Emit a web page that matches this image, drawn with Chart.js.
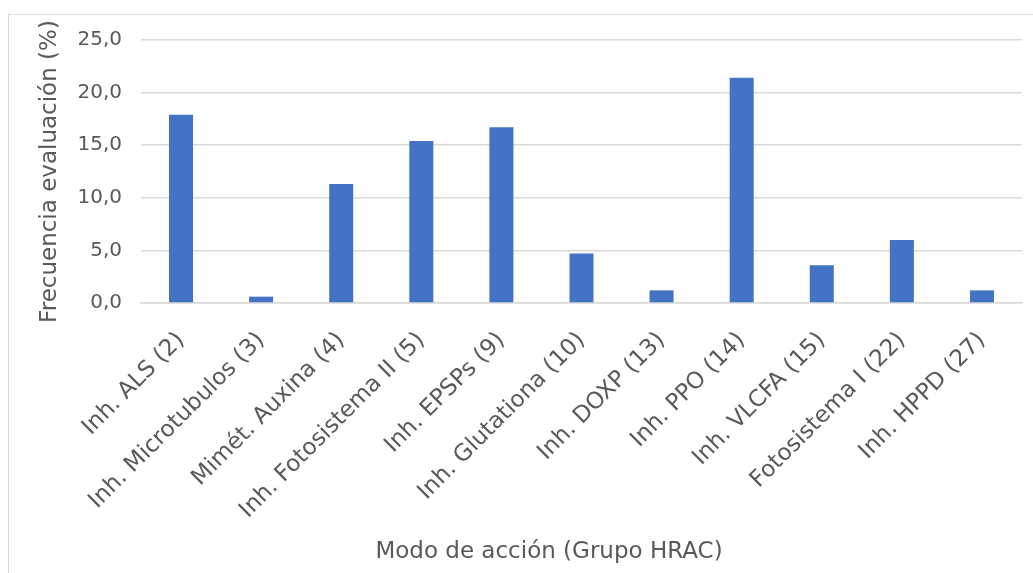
<!DOCTYPE html>
<html>
<head>
<meta charset="utf-8">
<script src="https://cdn.jsdelivr.net/npm/chart.js@4.4.1/dist/chart.umd.min.js"></script>
<style>
  html, body { margin: 0; padding: 0; background: #fff; overflow: hidden; }
  #wrap { position: relative; width: 1033px; height: 573px; }
  #frame { position: absolute; left: 8px; top: 14px; width: 1100px; height: 700px; border: 1px solid #d9d9d9; box-sizing: border-box; }
  canvas { position: absolute; left: 0; top: 0; }
</style>
</head>
<body>
<div id="wrap">
  <div id="frame"></div>
  <canvas id="grafico" width="1033" height="573"></canvas>
</div>
<script>
var categorias = ['Inh. ALS (2)', 'Inh. Microtubulos (3)', 'Mimét. Auxina (4)', 'Inh. Fotosistema II (5)', 'Inh. EPSPs (9)', 'Inh. Glutationa (10)', 'Inh. DOXP (13)', 'Inh. PPO (14)', 'Inh. VLCFA (15)', 'Fotosistema I (22)', 'Inh. HPPD (27)'];
var frecuencia = [17.9, 0.6, 11.3, 15.4, 16.7, 4.7, 1.2, 21.4, 3.6, 6.0, 1.2];
var ticksY = [0, 5, 10, 15, 20, 25];
var tituloX = 'Modo de acción (Grupo HRAC)';

// titulo del eje X, centrado como en el original
var tituloEjeX = {
  id: 'tituloEjeX',
  afterDraw: function (chart) {
    var c = chart.ctx;
    c.save();
    c.fillStyle = '#595959';
    c.font = '23px "DejaVu Sans"';
    c.textAlign = 'center';
    c.textBaseline = 'middle';
    c.fillText(tituloX, 549, 552);
    c.restore();
  }
};

var ctx = document.getElementById('grafico').getContext('2d');
var grafico = new Chart(ctx, {
  type: 'bar',
  data: {
    labels: categorias,
    datasets: [{
      label: 'Frecuencia evaluación (%)',
      data: frecuencia,
      backgroundColor: '#4472C4',
      borderWidth: 0,
      categoryPercentage: 1.0,
      barPercentage: 0.3
    }]
  },
  options: {
    responsive: false,
    animation: false,
    layout: { padding: { top: 40, right: 11, left: 10, bottom: 8 } },
    scales: {
      y: {
        min: 0,
        max: 25,
        afterFit: function (scale) { scale.width = 131; },
        afterBuildTicks: function (scale) {
          scale.ticks = ticksY.map(function (v) { return { value: v }; });
        },
        ticks: {
          color: '#595959',
          padding: 19,
          font: { family: 'DejaVu Sans', size: 20 },
          callback: function (v) { return v.toFixed(1).replace('.', ','); }
        },
        grid: { color: '#d9d9d9', lineWidth: 1.5, drawTicks: false },
        border: { display: false },
        title: {
          display: true,
          text: 'Frecuencia evaluación (%)',
          color: '#595959',
          font: { family: 'DejaVu Sans', size: 23 },
          padding: { top: 26, bottom: 0 }
        }
      },
      x: {
        afterFit: function (scale) { scale.height = 262; },
        ticks: {
          color: '#595959',
          minRotation: 45,
          maxRotation: 45,
          padding: 16,
          font: { family: 'DejaVu Sans', size: 23 }
        },
        grid: { display: false },
        border: { display: true, color: '#d9d9d9', width: 1.5 }
      }
    },
    plugins: {
      legend: { display: false },
      tooltip: { enabled: false }
    }
  },
  plugins: [tituloEjeX]
});
</script>
</body>
</html>
